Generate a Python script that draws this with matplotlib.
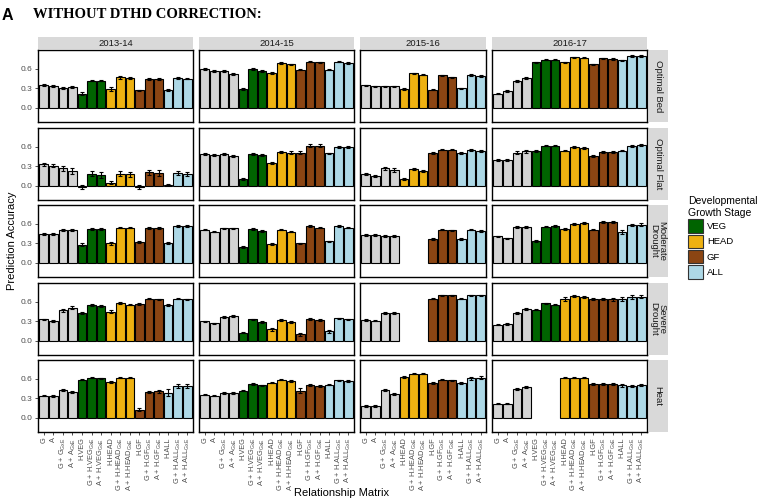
import numpy as np
import matplotlib
matplotlib.use("Agg")
import matplotlib.pyplot as plt
from matplotlib.patches import Patch

plt.rcParams['font.family'] = ['Liberation Sans', 'DejaVu Sans']
plt.rcParams['mathtext.fontset'] = 'custom'
plt.rcParams['mathtext.rm'] = 'Liberation Sans'

nan = np.nan

# categories (full set; 2015-16 has no VEG stage)
cats = ['G', 'A', 'G + G$_{\\mathrm{GxE}}$', 'A + A$_{\\mathrm{GxE}}$',
        'H.VEG', 'G + H.VEG$_{\\mathrm{GxE}}$', 'A + H.VEG$_{\\mathrm{GxE}}$',
        'H.HEAD', 'G + H.HEAD$_{\\mathrm{GxE}}$', 'A + H.HEAD$_{\\mathrm{GxE}}$',
        'H.GF', 'G + H.GF$_{\\mathrm{GxE}}$', 'A + H.GF$_{\\mathrm{GxE}}$',
        'H.ALL', 'G + H.ALL$_{\\mathrm{GxE}}$', 'A + H.ALL$_{\\mathrm{GxE}}$']
stage = ['none'] * 4 + ['VEG'] * 3 + ['HEAD'] * 3 + ['GF'] * 3 + ['ALL'] * 3
years = ['2013-14', '2014-15', '2015-16', '2016-17']
envs = ['Optimal Bed', 'Optimal Flat', 'Moderate\nDrought', 'Severe\nDrought', 'Heat']
stage_colors = {'none': '#D3D3D3', 'VEG': '#006400', 'HEAD': '#EEB111',
                'GF': '#8B4513', 'ALL': '#ADD8E6'}

# prediction accuracy values
bed_1314 = [0.36, 0.34, 0.31, 0.32, 0.22, 0.42, 0.42, 0.29, 0.47, 0.46, 0.27, 0.45, 0.44, 0.28, 0.46, 0.45]
bed_1415 = [0.60, 0.57, 0.57, 0.52, 0.29, 0.60, 0.57, 0.54, 0.69, 0.67, 0.59, 0.71, 0.70, 0.59, 0.71, 0.69]
bed_1516 = [0.35, 0.33, 0.33, 0.33, 0.29, 0.53, 0.51, 0.28, 0.50, 0.47, 0.30, 0.51, 0.49]
bed_1617 = [0.22, 0.26, 0.41, 0.46, 0.70, 0.74, 0.74, 0.70, 0.78, 0.77, 0.67, 0.76, 0.75, 0.73, 0.80, 0.80]

flat_1314 = [0.33, 0.31, 0.27, 0.23, -0.02, 0.19, 0.17, 0.05, 0.19, 0.18, -0.01, 0.21, 0.20, 0.02, 0.20, 0.18]
flat_1415 = [0.49, 0.47, 0.49, 0.46, 0.11, 0.49, 0.47, 0.35, 0.52, 0.51, 0.51, 0.62, 0.62, 0.50, 0.60, 0.60]
flat_1516 = [0.19, 0.15, 0.27, 0.24, 0.10, 0.26, 0.23, 0.51, 0.56, 0.56, 0.51, 0.55, 0.54]
flat_1617 = [0.40, 0.40, 0.51, 0.53, 0.53, 0.62, 0.62, 0.54, 0.60, 0.59, 0.46, 0.52, 0.52, 0.54, 0.62, 0.63]

mod_1314 = [0.45, 0.44, 0.51, 0.51, 0.28, 0.52, 0.52, 0.30, 0.54, 0.54, 0.32, 0.53, 0.53, 0.30, 0.57, 0.57]
mod_1415 = [0.51, 0.48, 0.53, 0.53, 0.24, 0.52, 0.49, 0.29, 0.51, 0.48, 0.30, 0.57, 0.54, 0.33, 0.57, 0.54]
mod_1516 = [0.43, 0.43, 0.42, 0.42, nan, nan, nan, 0.37, 0.51, 0.50, 0.37, 0.51, 0.49]
mod_1617 = [0.41, 0.38, 0.55, 0.55, 0.34, 0.56, 0.57, 0.52, 0.60, 0.61, 0.51, 0.63, 0.63, 0.47, 0.58, 0.59]

sev_1314 = [0.33, 0.31, 0.47, 0.51, 0.43, 0.55, 0.53, 0.45, 0.58, 0.56, 0.57, 0.65, 0.64, 0.55, 0.65, 0.64]
sev_1415 = [0.30, 0.27, 0.37, 0.38, 0.13, 0.33, 0.29, 0.18, 0.32, 0.29, 0.10, 0.34, 0.32, 0.15, 0.35, 0.33]
sev_1516 = [0.32, 0.31, 0.43, 0.43, nan, nan, nan, 0.65, 0.70, 0.70, 0.65, 0.70, 0.70]
sev_1617 = [0.25, 0.26, 0.43, 0.49, 0.48, 0.58, 0.56, 0.64, 0.69, 0.68, 0.64, 0.65, 0.64, 0.64, 0.68, 0.68]

heat_1314 = [0.34, 0.34, 0.43, 0.40, 0.59, 0.62, 0.61, 0.55, 0.62, 0.62, 0.13, 0.40, 0.41, 0.39, 0.49, 0.49]
heat_1415 = [0.36, 0.34, 0.39, 0.39, 0.42, 0.52, 0.50, 0.54, 0.59, 0.57, 0.42, 0.51, 0.49, 0.51, 0.58, 0.57]
heat_1516 = [0.18, 0.18, 0.43, 0.37, 0.63, 0.68, 0.68, 0.53, 0.59, 0.58, 0.54, 0.61, 0.62]
heat_1617 = [0.22, 0.22, 0.45, 0.47, nan, nan, nan, 0.62, 0.62, 0.62, 0.52, 0.52, 0.52, 0.50, 0.49, 0.50]

bed_1314_se = [0.015, 0.015, 0.015, 0.02, 0.02, 0.01, 0.01, 0.025, 0.02, 0.02, 0.01, 0.015, 0.015, 0.015, 0.01, 0.01]
bed_1415_se = [0.01, 0.01, 0.015, 0.015, 0.015, 0.01, 0.01, 0.015, 0.01, 0.01, 0.01, 0.01, 0.01, 0.01, 0.01, 0.01]
bed_1516_se = [0.01, 0.01, 0.01, 0.01, 0.015, 0.01, 0.01, 0.01, 0.01, 0.01, 0.01, 0.015, 0.015]
bed_1617_se = [0.01, 0.01, 0.015, 0.015, 0.01, 0.01, 0.01, 0.01, 0.01, 0.01, 0.01, 0.01, 0.01, 0.01, 0.01, 0.01]

flat_1314_se = [0.02, 0.02, 0.04, 0.05, 0.03, 0.04, 0.05, 0.02, 0.04, 0.04, 0.03, 0.04, 0.04, 0.01, 0.03, 0.03]
flat_1415_se = [0.01, 0.015, 0.015, 0.02, 0.02, 0.01, 0.015, 0.015, 0.02, 0.02, 0.02, 0.02, 0.02, 0.01, 0.015, 0.015]
flat_1516_se = [0.015, 0.015, 0.02, 0.03, 0.015, 0.015, 0.015, 0.015, 0.015, 0.015, 0.015, 0.015, 0.015]
flat_1617_se = [0.01, 0.01, 0.02, 0.025, 0.015, 0.01, 0.01, 0.01, 0.015, 0.015, 0.015, 0.015, 0.015, 0.01, 0.015, 0.015]

mod_1314_se = [0.015, 0.015, 0.015, 0.015, 0.02, 0.015, 0.015, 0.02, 0.01, 0.01, 0.015, 0.015, 0.015, 0.015, 0.015, 0.015]
mod_1415_se = [0.01, 0.01, 0.01, 0.01, 0.015, 0.01, 0.01, 0.015, 0.01, 0.01, 0.01, 0.01, 0.01, 0.015, 0.01, 0.01]
mod_1516_se = [0.01, 0.01, 0.015, 0.015, nan, nan, nan, 0.01, 0.01, 0.01, 0.01, 0.01, 0.01]
mod_1617_se = [0.01, 0.01, 0.015, 0.015, 0.015, 0.015, 0.015, 0.01, 0.015, 0.015, 0.01, 0.01, 0.01, 0.03, 0.015, 0.02]

sev_1314_se = [0.015, 0.015, 0.02, 0.02, 0.015, 0.015, 0.015, 0.02, 0.015, 0.015, 0.01, 0.01, 0.01, 0.015, 0.01, 0.01]
sev_1415_se = [0.01, 0.01, 0.015, 0.015, 0.015, 0.01, 0.01, 0.025, 0.01, 0.01, 0.03, 0.015, 0.02, 0.025, 0.01, 0.01]
sev_1516_se = [0.01, 0.01, 0.015, 0.015, nan, nan, nan, 0.01, 0.01, 0.01, 0.01, 0.01, 0.01]
sev_1617_se = [0.01, 0.01, 0.02, 0.02, 0.01, 0.01, 0.01, 0.03, 0.015, 0.015, 0.015, 0.015, 0.02, 0.03, 0.03, 0.02]

heat_1314_se = [0.01, 0.015, 0.02, 0.02, 0.01, 0.01, 0.01, 0.015, 0.01, 0.01, 0.03, 0.02, 0.02, 0.05, 0.025, 0.025]
heat_1415_se = [0.01, 0.01, 0.015, 0.015, 0.01, 0.01, 0.01, 0.01, 0.01, 0.01, 0.04, 0.015, 0.015, 0.01, 0.01, 0.01]
heat_1516_se = [0.015, 0.015, 0.02, 0.02, 0.01, 0.01, 0.01, 0.015, 0.01, 0.01, 0.02, 0.02, 0.02]
heat_1617_se = [0.01, 0.01, 0.015, 0.015, nan, nan, nan, 0.01, 0.01, 0.01, 0.02, 0.02, 0.02, 0.02, 0.015, 0.015]

values = [[bed_1314, bed_1415, bed_1516, bed_1617],
          [flat_1314, flat_1415, flat_1516, flat_1617],
          [mod_1314, mod_1415, mod_1516, mod_1617],
          [sev_1314, sev_1415, sev_1516, sev_1617],
          [heat_1314, heat_1415, heat_1516, heat_1617]]
errors = [[bed_1314_se, bed_1415_se, bed_1516_se, bed_1617_se],
          [flat_1314_se, flat_1415_se, flat_1516_se, flat_1617_se],
          [mod_1314_se, mod_1415_se, mod_1516_se, mod_1617_se],
          [sev_1314_se, sev_1415_se, sev_1516_se, sev_1617_se],
          [heat_1314_se, heat_1415_se, heat_1516_se, heat_1617_se]]

# 2015-16 has no VEG categories
year_cats = [list(range(16)), list(range(16)),
             [i for i in range(16) if stage[i] != 'VEG'], list(range(16))]

W, H = 758, 503
fig = plt.figure(figsize=(W / 100, H / 100), dpi=100)


def px(x0, y0, w, h):
    return [x0 / W, 1 - (y0 + h) / H, w / W, h / H]


unit = 9.57
col_left = [38, 199, 360, 492]
row_top = [50, 128, 205, 283, 360]
ph = 72
strip_col = '#D9D9D9'

for c, yr in enumerate(years):
    idx = year_cats[c]
    n = len(idx)
    pw = (n + 0.2) * unit
    # top strip
    sax = fig.add_axes(px(col_left[c], 37, pw, 12))
    sax.set_facecolor(strip_col)
    sax.set_xticks([]); sax.set_yticks([])
    for s in sax.spines.values():
        s.set_visible(False)
    sax.text(0.5, 0.5, yr, ha='center', va='center', fontsize=6.8, color='#1A1A1A',
             transform=sax.transAxes)
    for r, env in enumerate(envs):
        ax = fig.add_axes(px(col_left[c], row_top[r], pw, ph))
        vals = np.array(values[r][c], dtype=float)
        errs = np.array(errors[r][c], dtype=float)
        x = np.arange(n)
        ok = ~np.isnan(vals)
        cols = [stage_colors[stage[i]] for i in idx]
        ax.bar(x[ok], vals[ok], width=0.9, color=np.array(cols)[ok],
               edgecolor='black', linewidth=0.8)
        ax.errorbar(x[ok], vals[ok], yerr=errs[ok], fmt='none', ecolor='black',
                    elinewidth=0.8, capsize=1.2, capthick=0.8)
        ax.set_xlim(-0.6, n - 0.4)
        ax.set_ylim(-0.215, 0.89)
        for s in ax.spines.values():
            s.set_linewidth(1.0)
            s.set_color('black')
        ax.tick_params(length=2.5, width=0.6, color='#333333', labelsize=6,
                       labelcolor='#4D4D4D', pad=1.5)
        ax.set_yticks([0.0, 0.3, 0.6])
        if c == 0:
            ax.set_yticklabels(['0.0', '0.3', '0.6'])
        else:
            ax.tick_params(axis='y', left=False, labelleft=False)
        ax.set_xticks(x)
        if r == len(envs) - 1:
            ax.set_xticklabels([cats[i] for i in idx], rotation=90, fontsize=5.3)
        else:
            ax.tick_params(axis='x', bottom=False, labelbottom=False)
        if c == len(years) - 1:
            rax = fig.add_axes(px(col_left[c] + pw + 1.5, row_top[r], 19, ph))
            rax.set_facecolor(strip_col)
            rax.set_xticks([]); rax.set_yticks([])
            for s in rax.spines.values():
                s.set_visible(False)
            rax.text(0.5, 0.5, env, ha='center', va='center', rotation=-90,
                     fontsize=6.8, color='#1A1A1A', linespacing=0.9,
                     transform=rax.transAxes)

fig.text(12 / W, 1 - 241 / H, 'Prediction Accuracy', rotation=90, ha='center',
         va='center', fontsize=8)
fig.text(342 / W, 1 - 493 / H, 'Relationship Matrix', ha='center', va='center',
         fontsize=8)

fig.text(2 / W, 1 - 15 / H, 'A', fontsize=11.5, fontweight='bold', va='center')
fig.text(33 / W, 1 - 15 / H, 'WITHOUT DTHD CORRECTION:', fontsize=10.5,
         fontweight='bold', va='center', family='Liberation Serif')

handles = [Patch(facecolor=stage_colors[s], edgecolor='#333333', linewidth=0.8)
           for s in ['VEG', 'HEAD', 'GF', 'ALL']]
leg = fig.legend(handles, ['VEG', 'HEAD', 'GF', 'ALL'], loc='upper left',
                 bbox_to_anchor=(688 / W, 1 - 196 / H), frameon=False,
                 title='Developmental\nGrowth Stage', title_fontsize=7.5,
                 fontsize=6.8, handlelength=1.6, handleheight=1.8,
                 labelspacing=0.2, handletextpad=0.4, borderaxespad=0,
                 borderpad=0)
leg._legend_box.align = 'left'

fig.savefig('out.png', dpi=100)
